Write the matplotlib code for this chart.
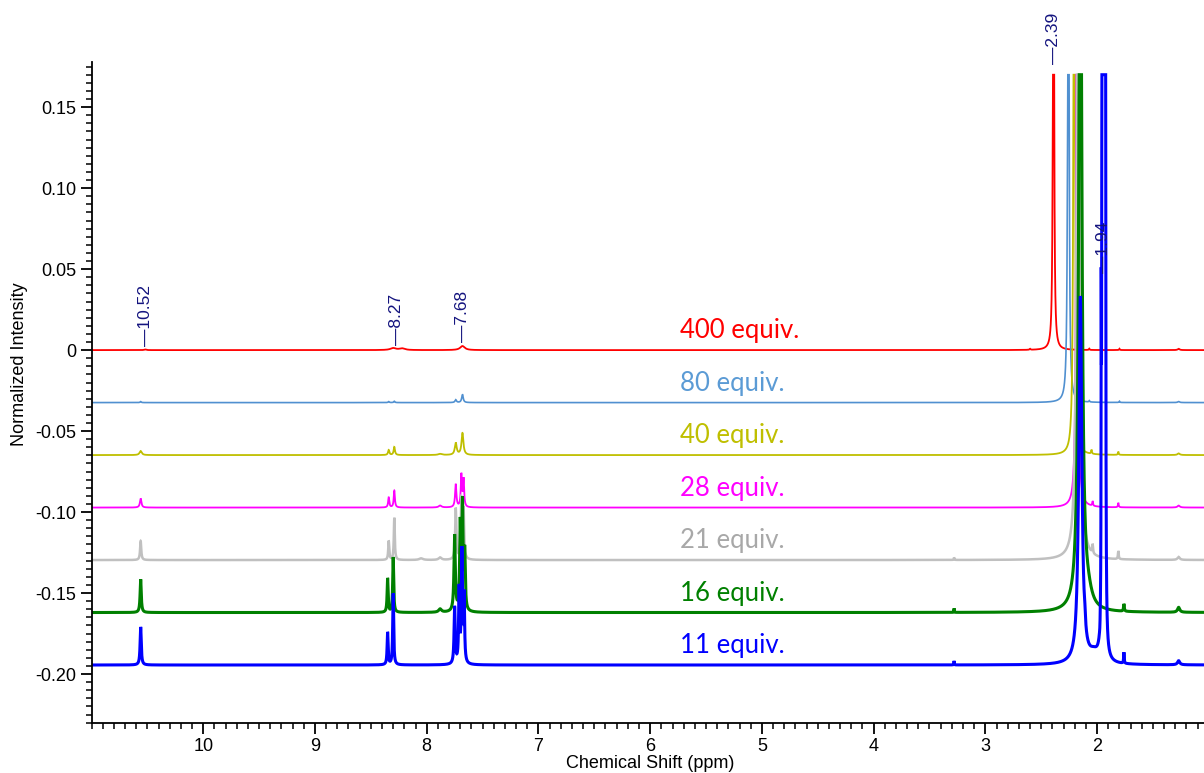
import numpy as np
import matplotlib
matplotlib.use("Agg")
import matplotlib.pyplot as plt
from matplotlib.ticker import MultipleLocator, FixedLocator, FixedFormatter

plt.rcParams["font.family"] = ["Liberation Sans", "DejaVu Sans"]

# ---- series -------------------------------------------------------------
equiv_labels = ["400 equiv.", "80 equiv.", "40 equiv.", "28 equiv.",
                "21 equiv.", "16 equiv.", "11 equiv."]
baselines = [0.0, -0.0324, -0.0648, -0.0972, -0.1296, -0.1620, -0.1944]
line_colors = ["#FF0000", "#5090D0", "#BFBF00", "#FF00FF",
               "#C0C0C0", "#008000", "#0000FF"]
text_colors = ["#FF0000", "#5B9BD5", "#BFBF00", "#FF00FF",
               "#A8A8A8", "#008000", "#0000FF"]
line_widths = [1.3, 1.2, 1.3, 1.3, 1.8, 2.2, 2.2]

# ---- peak tables: shift (ppm), height (normalized intensity), half-width (ppm)
ppm_400 = [10.52, 8.30, 8.22, 7.68, 2.39, 2.60, 2.07, 1.80, 1.27]
int_400 = [0.0004, 0.0012, 0.0010, 0.0025, 0.50, 0.0006, 0.0008, 0.0008, 0.0008]
hw_400 = [0.010, 0.030, 0.030, 0.025, 0.0045, 0.005, 0.004, 0.004, 0.010]

ppm_80 = [10.56, 8.34, 8.29, 7.74, 7.68, 2.257, 2.07, 1.80, 1.27]
int_80 = [0.0006, 0.0006, 0.0008, 0.0017, 0.0050, 0.50, 0.0008, 0.0008, 0.0006]
hw_80 = [0.006, 0.006, 0.006, 0.008, 0.008, 0.0055, 0.004, 0.004, 0.010]

ppm_40 = [10.56, 8.34, 8.29, 7.88, 7.74, 7.68, 2.205, 2.05, 1.81, 1.27]
int_40 = [0.0025, 0.0031, 0.0050, 0.0007, 0.0074, 0.0135, 0.50, 0.0025, 0.0020, 0.0010]
hw_40 = [0.012, 0.007, 0.007, 0.020, 0.010, 0.010, 0.0065, 0.004, 0.004, 0.012]

ppm_28 = [10.56, 8.34, 8.29, 7.88, 7.74, 7.69, 7.67, 2.18, 2.04, 1.81, 1.27]
int_28 = [0.0056, 0.0062, 0.0105, 0.0012, 0.0142, 0.0198, 0.0170, 0.50, 0.0028, 0.0028, 0.0012]
hw_28 = [0.008, 0.006, 0.006, 0.015, 0.007, 0.006, 0.006, 0.0068, 0.004, 0.004, 0.012]

ppm_21 = [10.56, 8.34, 8.29, 8.05, 7.88, 7.74, 7.69, 7.67, 3.28, 2.17, 2.04, 1.81, 1.27]
int_21 = [0.0118, 0.0118, 0.0260, 0.0010, 0.0015, 0.0316, 0.0365, 0.0300, 0.0015, 0.50,
          0.0055, 0.0050, 0.0018]
hw_21 = [0.006, 0.005, 0.005, 0.020, 0.015, 0.006, 0.006, 0.006, 0.003, 0.0125,
         0.004, 0.004, 0.012]

ppm_16 = [10.56, 8.35, 8.30, 7.88, 7.75, 7.70, 7.68, 7.66, 3.28, 2.15, 2.08, 1.76, 1.27]
int_16 = [0.0205, 0.0210, 0.0340, 0.0020, 0.0470, 0.0520, 0.0640, 0.0350, 0.0025, 0.50,
          0.0060, 0.0045, 0.0030]
hw_16 = [0.006, 0.005, 0.005, 0.015, 0.007, 0.006, 0.006, 0.006, 0.002, 0.015,
         0.040, 0.004, 0.012]

ppm_11 = [10.56, 8.35, 8.30, 7.75, 7.71, 7.685, 7.665, 3.28, 2.15, 2.11, 2.03,
          1.975, 1.963, 1.955, 1.948, 1.94, 1.932, 1.925, 1.76, 1.27]
int_11 = [0.0235, 0.0200, 0.0440, 0.0350, 0.0450, 0.0690, 0.0400, 0.0025, 0.2263, 0.0060,
          0.0050, -0.0030, 0.160, 0.60, 0.60, 0.60, 0.60, 0.45, 0.0068, 0.0025]
hw_11 = [0.006, 0.005, 0.005, 0.006, 0.005, 0.006, 0.005, 0.002, 0.016, 0.006,
         0.050, 0.004, 0.0015, 0.0025, 0.0025, 0.0025, 0.0025, 0.0025, 0.003, 0.012]

peak_tables = [(ppm_400, int_400, hw_400), (ppm_80, int_80, hw_80),
               (ppm_40, int_40, hw_40), (ppm_28, int_28, hw_28),
               (ppm_21, int_21, hw_21), (ppm_16, int_16, hw_16),
               (ppm_11, int_11, hw_11)]

# ---- peak-pick annotations ------------------------------------------------
peak_labels = ["10.52", "8.27", "7.68", "2.39", "1.94"]
peak_label_y = [0.0025, 0.003, 0.0048, 0.1765, 0.0476]

y_tick_values = [-0.20, -0.15, -0.10, -0.05, 0.0, 0.05, 0.10, 0.15]
y_tick_labels = ["-0.20", "-0.15", "-0.10", "-0.05", "0", "0.05", "0.10", "0.15"]
x_tick_values = [10, 9, 8, 7, 6, 5, 4, 3, 2, 1]
x_tick_labels = ["10", "9", "8", "7", "6", "5", "4", "3", "2", "1"]

display_ceiling = 0.17


def lorentzian_sum(x, centers, heights, widths):
    y = np.zeros_like(x)
    for c, h, w in zip(centers, heights, widths):
        y += h * w ** 2 / ((x - c) ** 2 + w ** 2)
    return y


fig = plt.figure(figsize=(12.04, 7.73), dpi=100)
ax = fig.add_axes([0.076, 0.0651, 0.928, 0.855])

shift = np.linspace(11.0, 1.0, 40001)
for (pp, hh, ww), base, col, lw in zip(peak_tables, baselines, line_colors, line_widths):
    trace = base + lorentzian_sum(shift, pp, hh, ww)
    trace = np.minimum(trace, display_ceiling)
    ax.plot(shift, trace, color=col, lw=lw, solid_joinstyle="miter")

# series labels
for lab, base, col in zip(equiv_labels, baselines, text_colors):
    ax.text(5.73, base + 0.0073, lab, color=col, fontsize=18.5,
            family=["Lato", "DejaVu Sans"], ha="left", va="baseline")

# peak-pick labels
for lab, ly in zip(peak_labels, peak_label_y):
    ax.text(float(lab), ly, "\u2014" + lab, rotation=90, ha="center", va="bottom",
            color="#14147F", fontsize=12.5, zorder=5)

ax.set_xlim(11.0, 1.0)
ax.set_ylim(-0.23, 0.178)

ax.spines["top"].set_visible(False)
ax.spines["right"].set_visible(False)
for s in ("left", "bottom"):
    ax.spines[s].set_linewidth(1.3)

ax.xaxis.set_major_locator(FixedLocator(x_tick_values))
ax.xaxis.set_major_formatter(FixedFormatter(x_tick_labels))
ax.xaxis.set_minor_locator(MultipleLocator(0.1))
ax.yaxis.set_major_locator(FixedLocator(y_tick_values))
ax.yaxis.set_major_formatter(FixedFormatter(y_tick_labels))
ax.yaxis.set_minor_locator(MultipleLocator(0.005))

ax.tick_params(axis="both", which="major", direction="out", length=8, width=1.3,
               labelsize=13, pad=3)
ax.tick_params(axis="both", which="minor", direction="out", length=4.2, width=1.1)

ax.set_xlabel("Chemical Shift (ppm)", fontsize=13, labelpad=0)
ax.set_ylabel("Normalized Intensity", fontsize=13)
ax.yaxis.set_label_coords(-0.0568, 0.542)

fig.savefig("out.png", dpi=100)
